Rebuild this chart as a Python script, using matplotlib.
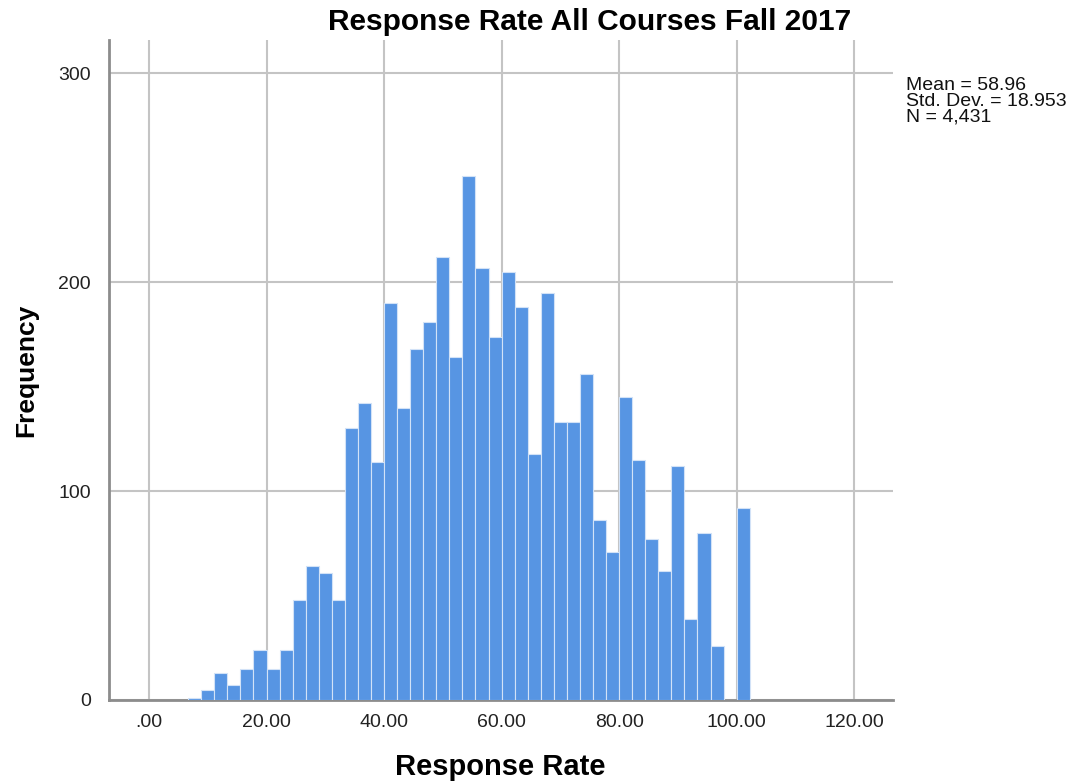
import numpy as np
import matplotlib.pyplot as plt

# histogram counts, bins of width 20/9 ending at ~102.2
counts = [1, 5, 13, 7, 15, 24, 15, 24, 48, 64, 61, 48, 130, 142, 114, 190,
          140, 168, 181, 212, 164, 251, 207, 174, 205, 188, 118, 195, 133,
          133, 156, 86, 71, 145, 115, 77, 62, 112, 39, 80, 26, 0, 92]
bin_width = 20 / 9
edges = 100 + bin_width * np.arange(-42, 2)

xticks = [0, 20, 40, 60, 80, 100, 120]
xtick_labels = ['.00', '20.00', '40.00', '60.00', '80.00', '100.00', '120.00']
yticks = [0, 100, 200, 300]

stats_text = 'Mean = 58.96\nStd. Dev. = 18.953\nN = 4,431'

plt.rcParams['font.family'] = ['Liberation Sans', 'DejaVu Sans']

fig = plt.figure(figsize=(10.79, 7.81), dpi=100)
ax = fig.add_axes([109 / 1079, 1 - 700 / 781, 784 / 1079, 660 / 781])

ax.hist(edges[:-1], bins=edges, weights=counts, color='#5795e3',
        edgecolor='#d2e2f7', linewidth=0.8, zorder=3)

ax.set_xlim(-6.8, 126.6)
ax.set_ylim(0, 316)
ax.set_xticks(xticks)
ax.set_xticklabels(xtick_labels)
ax.set_yticks(yticks)
ax.tick_params(length=0, labelsize=14, colors='#222222')
ax.tick_params(axis='x', pad=10)
ax.tick_params(axis='y', pad=13)

ax.grid(True, color='#c4c4c4', linewidth=1.5, zorder=0)
ax.set_axisbelow(True)
for side in ['top', 'right']:
    ax.spines[side].set_visible(False)
for side in ['left', 'bottom']:
    ax.spines[side].set_color('#8c8c8c')
    ax.spines[side].set_linewidth(2)

fig.text(590 / 1079, 1 - 22 / 781, 'Response Rate All Courses Fall 2017',
         ha='center', va='center', fontsize=21.5, fontweight='bold')
fig.text(500 / 1079, 1 - 767 / 781, 'Response Rate', ha='center', va='center',
         fontsize=21, fontweight='bold')
fig.text(26 / 1079, 1 - 370 / 781, 'Frequency', ha='center', va='center',
         rotation=90, fontsize=19, fontweight='bold')
fig.text(906 / 1079, 1 - 77 / 781, stats_text, ha='left', va='top',
         fontsize=14, linespacing=0.92, color='#111111')

plt.savefig('out.png', dpi=100)
